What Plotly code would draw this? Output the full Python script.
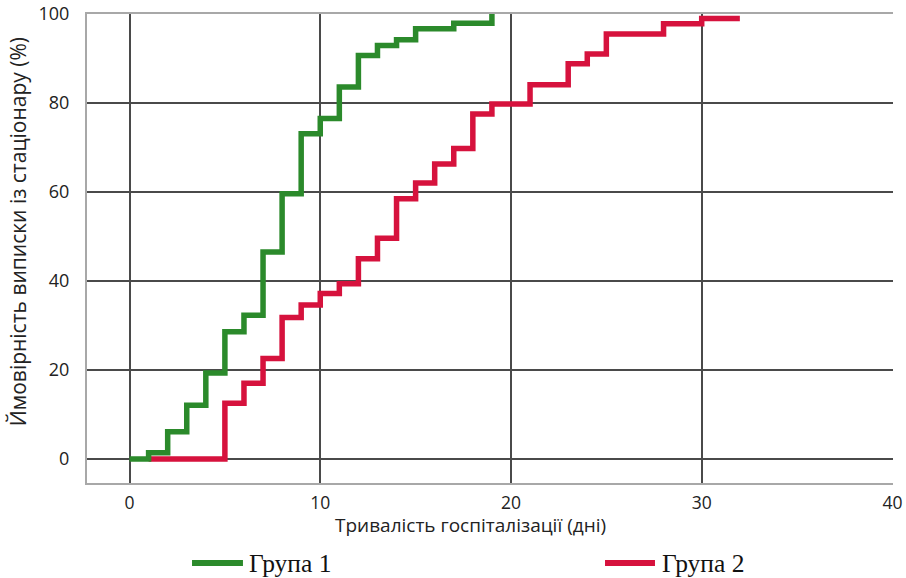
import plotly.graph_objects as go

# Group 1 (green) – step points (day, %)
g1_days = [0, 1, 2, 3, 4, 5, 6, 7, 8, 9, 10, 11, 12, 13, 14, 15, 17, 19]
g1_prob = [0, 1.4, 6.1, 12.1, 19.3, 28.6, 32.3, 46.5, 59.6, 73.1, 76.5, 83.6, 90.7, 92.9, 94.2, 96.7, 97.9, 100]

# Group 2 (red) – step points (day, %)
g2_days = [1, 5, 6, 7, 8, 9, 10, 11, 12, 13, 14, 15, 16, 17, 18, 19, 21, 23, 24, 25, 28, 30, 32]
g2_prob = [0, 12.5, 17, 22.6, 31.8, 34.6, 37.2, 39.4, 45, 49.6, 58.5, 62, 66.3, 69.8, 77.5, 79.8, 84.1, 88.8, 91, 95.5, 97.8, 99, 99]

x_ticks = [0, 10, 20, 30, 40]
y_ticks = [0, 20, 40, 60, 80, 100]

series_names = ["Група 1", "Група 2"]
x_title = "Тривалість госпіталізації (дні)"
y_title = "Ймовірність виписки із стаціонару (%)"

GREEN = "#2b8a2b"
RED = "#d6123d"
SANS = "Open Sans, Noto Sans, sans-serif"

fig = go.Figure()
fig.add_trace(go.Scatter(x=g2_days, y=g2_prob, mode="lines", line=dict(color=RED, width=5.5, shape="hv"),
                         name=series_names[1], showlegend=False))
fig.add_trace(go.Scatter(x=g1_days, y=g1_prob, mode="lines", line=dict(color=GREEN, width=5.5, shape="hv"),
                         name=series_names[0], showlegend=False))

fig.update_layout(
    width=906, height=578,
    margin=dict(l=87, r=13, t=14, b=95),
    paper_bgcolor="white", plot_bgcolor="white",
    font=dict(family=SANS, size=18, color="#222"),
    xaxis=dict(range=[-2.23, 40.03], tickvals=x_ticks, showgrid=True, gridcolor="#4a4a4a", gridwidth=1.5,
               zeroline=False, showline=True, linecolor="#a8a8a8", linewidth=2, mirror=True, automargin=False,
               ticks="", ticklabelstandoff=3, tickfont=dict(size=17.5, family=SANS, color="#222")),
    yaxis=dict(range=[-5.4, 100], tickvals=y_ticks, showgrid=True, gridcolor="#4a4a4a", gridwidth=1.5,
               zeroline=False, showline=True, linecolor="#a8a8a8", linewidth=2, mirror=False, automargin=False,
               ticks="", ticklabelstandoff=12, tickfont=dict(size=18, family=SANS, color="#222")),
)

# Axis titles
fig.add_annotation(text=x_title, xref="paper", yref="paper", x=0.4764, y=-0.0885,
                   xanchor="center", yanchor="middle", showarrow=False,
                   font=dict(family=SANS, size=19, color="#222"))
fig.add_annotation(text=y_title, xref="paper", yref="paper", x=-0.0855, y=0.535,
                   xanchor="center", yanchor="middle", showarrow=False, textangle=-90,
                   font=dict(family=SANS, size=21, color="#222"))

# Manual legend
leg_y = -0.1706
for (x0, x1, tx, col, name) in [(0.1303, 0.1935, 0.1985, GREEN, series_names[0]),
                                (0.6427, 0.7047, 0.7110, RED, series_names[1])]:
    fig.add_shape(type="line", xref="paper", yref="paper", x0=x0, x1=x1, y0=leg_y, y1=leg_y,
                  line=dict(color=col, width=6))
    fig.add_annotation(text=name, xref="paper", yref="paper", x=tx, y=leg_y,
                       xanchor="left", yanchor="middle", showarrow=False,
                       font=dict(family="Liberation Serif, Times New Roman, serif", size=25.5, color="#111"))

fig.write_html("out.html")
